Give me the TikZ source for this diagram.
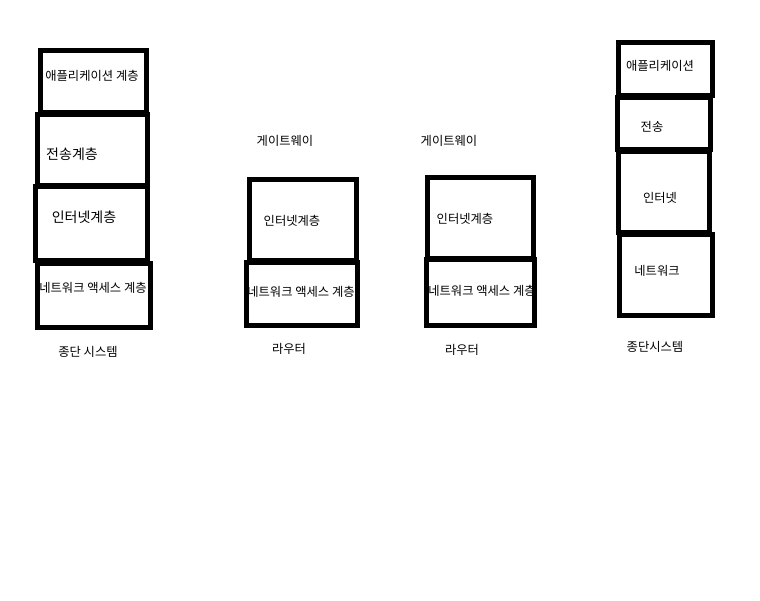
\documentclass[tikz,border=0pt]{standalone}
\usepackage{fontspec}
\newfontfamily\kr{Noto Sans CJK KR}
\usepackage{tikz}

\begin{document}
\begin{tikzpicture}[x=1pt,y=-1pt,
  layer/.style={line width=5pt},
  lbl/.style={font=\kr\fontsize{12.3}{14}\selectfont,inner sep=0pt},
  biglbl/.style={font=\kr\fontsize{14}{16}\selectfont,inner sep=0pt}]
\useasboundingbox (0,0) rectangle (760,600);
% end system, left
\draw[layer](40,50) rectangle (146,112);
\draw[layer](37,114) rectangle (147,185);
\draw[layer](35,186) rectangle (147,260);
\draw[layer](37,263) rectangle (150,327);
\node[lbl] (appL) at (92,76) {애플리케이션 계층};
\node[biglbl] (trL) at (72,154) {전송계층};
\node[biglbl] (inL) at (84,217) {인터넷계층};
\node[lbl] (nwL) at (93,288) {네트워크 액세스 계층};
\node[lbl] (esL) at (88,352) {종단 시스템};
% router 1
\draw[layer](249,179) rectangle (356,260);
\draw[layer](246,262) rectangle (357,325);
\node[lbl] (gw1) at (285,141) {게이트웨이};
\node[lbl] (in1) at (292,221) {인터넷계층};
\node[lbl] (nw1) at (301,292) {네트워크 액세스 계층};
\node[lbl] (rt1) at (289,349) {라우터};
% router 2
\draw[layer](427,177) rectangle (533,258);
\draw[layer](426,259) rectangle (534,325);
\node[lbl] (gw2) at (449,141) {게이트웨이};
\node[lbl] (in2) at (465,219) {인터넷계층};
\node[lbl] (nw2) at (482,291) {네트워크 액세스 계층};
\node[lbl] (rt2) at (462,350) {라우터};
% end system, right
\draw[layer](618,42) rectangle (712,95);
\draw[layer](617,97) rectangle (710,149);
\draw[layer](618,151) rectangle (709,232);
\draw[layer](619,234) rectangle (712,315);
\node[lbl] (appR) at (660,66) {애플리케이션};
\node[lbl] (trR) at (652,127) {전송};
\node[lbl] (inR) at (660,198) {인터넷};
\node[lbl] (nwR) at (657,271) {네트워크};
\node[lbl] (esR) at (655,347) {종단시스템};
\end{tikzpicture}
\end{document}
